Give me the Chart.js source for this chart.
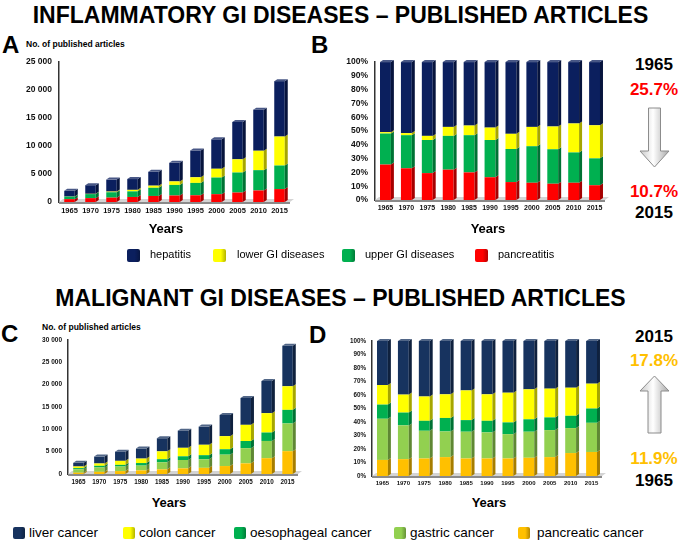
<!DOCTYPE html>
<html>
<head>
<meta charset="utf-8">
<script src="https://cdn.jsdelivr.net/npm/chart.js@4/dist/chart.umd.min.js"></script>
<style>
  body { margin: 0; width: 681px; height: 542px; background: #fff; position: relative; overflow: hidden;
         font-family: "Liberation Sans", Arial, sans-serif; color: #000; }
  .abs { position: absolute; }
  .title { left: 0; width: 681px; text-align: center; font-weight: bold; font-size: 23px; line-height: 23px; }
  .panel { font-weight: bold; font-size: 24px; line-height: 24px; }
  .ylab { font-weight: bold; font-size: 8.5px; white-space: nowrap; }
  .years { font-weight: bold; font-size: 13px; transform: translateX(-50%); }
  .leg { font-size: 11px; white-space: nowrap; line-height: 13px; }
  .leg2 { font-size: 13.5px; white-space: nowrap; line-height: 14px; }
  .sq { display: inline-block; border-radius: 2px; }
  .note { font-weight: bold; font-size: 17px; width: 60px; text-align: center; left: 624px; line-height: 17px; }
  canvas { position: absolute; }
</style>
</head>
<body>

<div class="abs title" style="top:4px">INFLAMMATORY GI DISEASES – PUBLISHED ARTICLES</div>
<div class="abs title" style="top:287px">MALIGNANT GI DISEASES – PUBLISHED ARTICLES</div>

<div class="abs panel" style="left:2px;top:33px">A</div>
<div class="abs panel" style="left:311px;top:33px">B</div>
<div class="abs panel" style="left:1px;top:322px">C</div>
<div class="abs panel" style="left:309px;top:323px">D</div>

<div class="abs ylab" style="left:26px;top:39px">No. of published articles</div>
<div class="abs ylab" style="left:42px;top:322px">No. of published articles</div>

<canvas id="chartA" width="300" height="172" style="left:0;top:50px"></canvas>
<canvas id="chartB" width="295" height="170" style="left:320px;top:50px"></canvas>
<canvas id="chartC" width="308" height="160" style="left:0;top:330px"></canvas>
<canvas id="chartD" width="292" height="161" style="left:320px;top:331px"></canvas>

<div class="abs years" style="left:166px;top:221px">Years</div>
<div class="abs years" style="left:488px;top:221px">Years</div>
<div class="abs years" style="left:169px;top:495px">Years</div>
<div class="abs years" style="left:489px;top:495px">Years</div>

<div id="legendTop"></div>
<div id="legendBottom"></div>

<!-- right side notes, panel B -->
<div class="abs note" style="top:56px">1965</div>
<div class="abs note" style="top:81px;color:#ff0000">25.7%</div>
<svg class="abs" style="left:638px;top:106px" width="34" height="64">
  <defs>
    <linearGradient id="ga" x1="0" x2="1" y1="0" y2="0">
      <stop offset="0" stop-color="#c8c8c8"/><stop offset="0.45" stop-color="#ffffff"/><stop offset="1" stop-color="#a8a8a8"/>
    </linearGradient>
  </defs>
  <path d="M10.5 2 H22.5 V45 H31 L16.5 61 L2 45 H10.5 Z" fill="url(#ga)" stroke="#8c8c8c" stroke-width="1"/>
</svg>
<div class="abs note" style="top:183px;color:#ff0000">10.7%</div>
<div class="abs note" style="top:204px">2015</div>

<!-- right side notes, panel D -->
<div class="abs note" style="top:328px">2015</div>
<div class="abs note" style="top:352px;color:#ffc000">17.8%</div>
<svg class="abs" style="left:638px;top:374px" width="34" height="62">
  <defs>
    <linearGradient id="gb" x1="0" x2="1" y1="0" y2="0">
      <stop offset="0" stop-color="#c8c8c8"/><stop offset="0.45" stop-color="#ffffff"/><stop offset="1" stop-color="#a8a8a8"/>
    </linearGradient>
  </defs>
  <path d="M10 59 H23 V17 H31 L16.5 2 L2 17 H10 Z" fill="url(#gb)" stroke="#8c8c8c" stroke-width="1"/>
</svg>
<div class="abs note" style="top:450px;color:#ffc000">11.9%</div>
<div class="abs note" style="top:472px">1965</div>

<script>
// ---- data ----
const years = ['1965', '1970', '1975', '1980', '1985', '1990', '1995', '2000', '2005', '2010', '2015'];

// A: inflammatory GI diseases, number of articles
const hepatitis    = [1020, 1540, 2140, 1930, 2480, 3320, 4780, 5260, 6670, 7340, 9900];
const lowerGI      = [20, 50, 120, 270, 380, 630, 1010, 1570, 2360, 3470, 5180];
const upperGI      = [450, 720, 960, 1000, 1460, 1890, 2210, 2970, 3580, 3630, 4210];
const pancreatitis = [510, 690, 780, 900, 1080, 1160, 1200, 1400, 1690, 2060, 2310];

// B: inflammatory GI diseases, share (%)
const hepatitisPct    = [50.8, 51.5, 53.5, 47, 46, 47.5, 52, 47, 46.7, 44.5, 45.8];
const lowerGIPct      = [1, 1.5, 3, 6.5, 7, 9, 11, 14, 16.5, 21, 24];
const upperGIPct      = [22.5, 24, 24, 24.5, 27, 27, 24, 26.5, 25, 22, 19.5];
const pancreatitisPct = [25.7, 23, 19.5, 22, 20, 16.5, 13, 12.5, 11.8, 12.5, 10.7];

// C: malignant GI diseases, number of articles
const liverCa       = [820, 1545, 2055, 2250, 2930, 3840, 4060, 4730, 6000, 7190, 9070];
const colonCa       = [360, 520, 900, 1000, 1760, 1900, 2330, 2930, 3620, 4330, 5280];
const oesophagealCa = [260, 370, 370, 570, 690, 830, 920, 1210, 1600, 1890, 3040];
const gastricCa     = [760, 975, 1025, 1080, 1580, 1870, 1910, 2550, 3400, 3850, 6200];
const pancreaticCa  = [300, 490, 650, 800, 1040, 1260, 1380, 1780, 2380, 3540, 5110];

// D: malignant GI diseases, share (%)
const liverPct       = [32.6, 39.7, 41.1, 39.5, 36.6, 39.5, 38.3, 35.8, 35.3, 34.6, 31.6];
const colonPct       = [14.5, 13.3, 18, 17.5, 22, 19.6, 22, 22.2, 21.3, 20.8, 18.4];
const oesophagealPct = [10.5, 9.5, 7.4, 10, 8.6, 8.6, 8.7, 9.2, 9.4, 9.1, 10.6];
const gastricPct     = [30.5, 25, 20.5, 19, 19.8, 19.3, 18, 19.3, 20, 18.5, 21.6];
const pancreaticPct  = [11.9, 12.5, 13, 14, 13, 13, 13, 13.5, 14, 17, 17.8];

const inflLabels = ['hepatitis', 'lower GI diseases', 'upper GI diseases', 'pancreatitis'];
const malLabels = ['liver cancer', 'colon cancer', 'oesophageal cancer', 'gastric cancer', 'pancreatic cancer'];

const inflColors = ['#0b1f5e', '#ffff00', '#00b050', '#ff0000'];
const malColors = ['#17335f', '#ffff00', '#00b050', '#92d050', '#ffc000'];

Chart.defaults.font.family = '"Liberation Sans", Arial, sans-serif';
Chart.defaults.color = '#111';

function shade(hex, f) {
  const n = parseInt(hex.slice(1), 16);
  let r = n >> 16, g = (n >> 8) & 255, b = n & 255;
  if (f < 0) { r *= 1 + f; g *= 1 + f; b *= 1 + f; }
  else { r += (255 - r) * f; g += (255 - g) * f; b += (255 - b) * f; }
  return 'rgb(' + Math.round(r) + ',' + Math.round(g) + ',' + Math.round(b) + ')';
}

// fake 3d look: floor under the bars, dark side face and a top cap
const depth3d = {
  id: 'depth3d',
  beforeDatasetsDraw(chart) {
    const { ctx, chartArea: a } = chart;
    ctx.save();
    ctx.fillStyle = '#d4d4d4';
    ctx.beginPath();
    ctx.moveTo(a.left, a.bottom);
    ctx.lineTo(a.left + 4, a.bottom - 3);
    ctx.lineTo(a.right + 4, a.bottom - 3);
    ctx.lineTo(a.right, a.bottom);
    ctx.fill();
    ctx.fillStyle = '#8a8a8a';
    ctx.fillRect(a.left, a.bottom, a.right - a.left, 2);
    ctx.restore();
  },
  afterDatasetsDraw(chart) {
    const ctx = chart.ctx;
    const n = chart.data.datasets.length;
    ctx.save();
    chart.data.datasets.forEach((ds, i) => {
      const meta = chart.getDatasetMeta(i);
      meta.data.forEach(bar => {
        const p = bar.getProps(['x', 'y', 'base', 'width'], true);
        const r = p.x + p.width / 2, l = p.x - p.width / 2;
        ctx.fillStyle = shade(ds.backgroundColor, -0.35);
        ctx.beginPath();
        ctx.moveTo(r, p.y);
        ctx.lineTo(r + 3, p.y - 2);
        ctx.lineTo(r + 3, p.base - 2);
        ctx.lineTo(r, p.base);
        ctx.fill();
        if (i === n - 1) {
          ctx.fillStyle = shade(ds.backgroundColor, 0.25);
          ctx.beginPath();
          ctx.moveTo(l, p.y);
          ctx.lineTo(l + 3, p.y - 2);
          ctx.lineTo(r + 3, p.y - 2);
          ctx.lineTo(r, p.y);
          ctx.fill();
        }
      });
    });
    ctx.restore();
  }
};

function thousands(v) {
  return v === 0 ? '0' : (v / 1000) + ' 000';
}

function makeChart(id, sets, cfg) {
  new Chart(document.getElementById(id), {
    type: 'bar',
    data: {
      labels: years,
      datasets: sets.map(s => ({
        label: s.label,
        data: s.data,
        backgroundColor: s.color,
        borderWidth: 0,
        categoryPercentage: 1,
        barPercentage: cfg.barPct
      }))
    },
    options: {
      responsive: false,
      animation: false,
      layout: { padding: { top: cfg.padTop, right: 10, left: 0, bottom: 0 } },
      plugins: { legend: { display: false }, tooltip: { enabled: false } },
      scales: {
        x: {
          stacked: true,
          grid: { display: false, drawTicks: false },
          border: { display: false },
          ticks: { font: { size: cfg.xSize, weight: 'bold' }, padding: 4, maxRotation: 0, autoSkip: false },
          afterFit: s => { s.height = cfg.xHeight; }
        },
        y: {
          stacked: true,
          min: 0,
          max: cfg.max,
          grid: { display: false, drawTicks: false },
          border: { display: true, color: '#333', width: 1.5 },
          ticks: { stepSize: cfg.step, callback: cfg.fmt, font: { size: cfg.ySize, weight: 'bold' }, padding: cfg.yPad },
          afterFit: s => { s.width = cfg.yWidth; }
        }
      }
    },
    plugins: [depth3d]
  });
}

// stacking goes bottom-up, so the bottom series comes first
makeChart('chartA', [
  { label: inflLabels[3], data: pancreatitis, color: inflColors[3] },
  { label: inflLabels[2], data: upperGI, color: inflColors[2] },
  { label: inflLabels[1], data: lowerGI, color: inflColors[1] },
  { label: inflLabels[0], data: hepatitis, color: inflColors[0] }
], { max: 25000, step: 5000, fmt: thousands, ySize: 8.5, xSize: 7.5, yWidth: 59, xHeight: 20, padTop: 10, yPad: 7, barPct: 0.5 });

makeChart('chartB', [
  { label: inflLabels[3], data: pancreatitisPct, color: inflColors[3] },
  { label: inflLabels[2], data: upperGIPct, color: inflColors[2] },
  { label: inflLabels[1], data: lowerGIPct, color: inflColors[1] },
  { label: inflLabels[0], data: hepatitisPct, color: inflColors[0] }
], { max: 100, step: 10, fmt: v => v + '%', ySize: 8.5, xSize: 7, yWidth: 55, xHeight: 20, padTop: 9, yPad: 7, barPct: 0.52 });

makeChart('chartC', [
  { label: malLabels[4], data: pancreaticCa, color: malColors[4] },
  { label: malLabels[3], data: gastricCa, color: malColors[3] },
  { label: malLabels[2], data: oesophagealCa, color: malColors[2] },
  { label: malLabels[1], data: colonCa, color: malColors[1] },
  { label: malLabels[0], data: liverCa, color: malColors[0] }
], { max: 30000, step: 5000, fmt: thousands, ySize: 6.5, xSize: 6.3, yWidth: 68, xHeight: 16, padTop: 9, yPad: 6, barPct: 0.5 });

makeChart('chartD', [
  { label: malLabels[4], data: pancreaticPct, color: malColors[4] },
  { label: malLabels[3], data: gastricPct, color: malColors[3] },
  { label: malLabels[2], data: oesophagealPct, color: malColors[2] },
  { label: malLabels[1], data: colonPct, color: malColors[1] },
  { label: malLabels[0], data: liverPct, color: malColors[0] }
], { max: 100, step: 10, fmt: v => v + '%', ySize: 6.3, xSize: 6, yWidth: 52, xHeight: 16, padTop: 10, yPad: 6, barPct: 0.52 });

// html legends, placed by hand under each pair of charts
function legend(holder, labels, colors, lefts, top, cls, sq) {
  const el = document.getElementById(holder);
  labels.forEach((lab, i) => {
    const sqEl = document.createElement('div');
    sqEl.className = 'abs sq';
    sqEl.style.cssText = 'left:' + lefts[i][0] + 'px;top:' + (top - sq / 2) + 'px;width:' + sq + 'px;height:' + sq + 'px;' +
      'background:linear-gradient(90deg,' + colors[i] + ' 60%,' + shade(colors[i], -0.3) + ' 100%);';
    el.appendChild(sqEl);
    const t = document.createElement('div');
    t.className = 'abs ' + cls;
    t.style.left = lefts[i][1] + 'px';
    t.style.top = (top - 7) + 'px';
    t.textContent = lab;
    el.appendChild(t);
  });
}

legend('legendTop', inflLabels, inflColors, [[127, 150], [213, 237], [342, 365], [475, 498]], 255, 'leg', 13);
legend('legendBottom', malLabels, malColors, [[13, 29], [123, 139], [234, 250], [394, 410], [518, 537]], 533, 'leg2', 12);
</script>
</body>
</html>
